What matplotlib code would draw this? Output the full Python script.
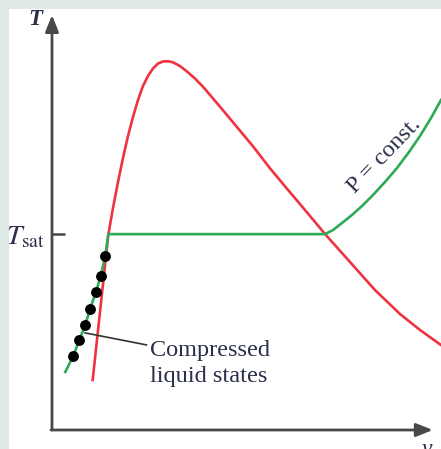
import matplotlib
matplotlib.use("Agg")
import matplotlib.pyplot as plt

# T-v diagram, arbitrary units (v: 0..100, T: 0..100)
dome_v = [10.46, 14.47, 15.68, 16.97, 18.25, 19.54, 20.82, 22.11, 23.39, 24.68, 25.96,
          27.25, 28.53, 29.82, 31.11, 32.90, 34.70, 36.76, 38.82, 43.19, 47.48, 51.75,
          56.04, 60.33, 65.04, 70.18, 76.61, 83.03, 89.46, 94.60, 100.0]
dome_T = [12.05, 46.99, 53.49, 59.76, 65.54, 70.84, 75.42, 79.52, 82.89, 85.30, 87.11,
          88.31, 88.80, 88.87, 88.60, 87.71, 86.39, 84.70, 82.72, 77.90, 73.08, 68.27,
          63.06, 58.24, 53.01, 47.23, 40.48, 33.73, 27.95, 24.10, 20.48]

T_sat = 47.2

# constant pressure line: compressed liquid -> saturated mixture -> superheated vapor
iso_v = [3.42, 5.48, 7.02, 8.56, 9.77, 11.31, 12.52, 13.70, 14.47, 70.18,
         72.24, 74.55, 77.12, 79.69, 82.52, 85.60, 88.69, 91.77, 94.60, 97.43, 100.0]
iso_T = [13.98, 17.83, 21.69, 25.30, 29.16, 33.25, 37.11, 41.93, T_sat, T_sat,
         48.19, 49.88, 51.81, 53.98, 56.63, 59.76, 63.13, 66.99, 70.84, 75.18, 79.52]

# compressed liquid states
dots_v = [5.48, 7.02, 8.56, 9.77, 11.31, 12.52, 13.70]
dots_T = [17.83, 21.69, 25.30, 29.16, 33.25, 37.11, 41.93]

red = "#ee3340"
green = "#2daa56"
txt = "#2b2f4a"
axc = "#484848"

plt.rcParams["mathtext.fontset"] = "stix"
serif = ["Liberation Serif", "DejaVu Serif"]

fig = plt.figure(figsize=(4.41, 4.49), dpi=100, facecolor="#dfe9e6")
ax = fig.add_axes([9 / 441, 0, 432 / 441, 440 / 449])
ax.set_facecolor("white")
ax.set_xlim(-11.05, 100)
ax.set_ylim(-4.58, 101.45)
ax.set_xticks([])
ax.set_yticks([])
for s in ax.spines.values():
    s.set_visible(False)

# axes with arrows
ax.annotate("", xy=(0, 100), xytext=(0, 0),
            arrowprops=dict(arrowstyle="-|>,head_length=1.0,head_width=0.4",
                            color=axc, lw=2.0, shrinkA=0, shrinkB=0))
ax.annotate("", xy=(97.9, 0), xytext=(-0.25, 0),
            arrowprops=dict(arrowstyle="-|>,head_length=1.0,head_width=0.4",
                            color=axc, lw=2.0, shrinkA=0, shrinkB=0))
ax.plot([0, 3.34], [T_sat, T_sat], color=axc, lw=1.8, solid_capstyle="butt")

ax.plot(dome_v, dome_T, color=red, lw=1.9, solid_joinstyle="round")
ax.plot(iso_v, iso_T, color=green, lw=1.9, solid_joinstyle="round")
ax.plot(dots_v, dots_T, "o", color="black", ms=6.8, zorder=5)

# leader line + label
ax.plot([8.5, 24.3], [23.4, 20.5], color="#333333", lw=1.2)
ax.text(25.2, 16.0, "Compressed\nliquid states", ha="left", va="center",
        family=serif, fontsize=17.5, color=txt, linespacing=1.3)

ax.text(85.5, 66.0, "P = const.", rotation=46, rotation_mode="anchor",
        ha="center", va="center", family=serif, fontsize=17.5, color=txt)

ax.text(-1.8, 46.7, r"$T_{\rm sat}$", ha="right", va="center", fontsize=20, color=txt)
ax.text(-4.4, 98.8, "T", ha="center", va="center", family=serif, style="italic",
        weight="bold", fontsize=16.5, color=txt)
ax.text(96.4, -2.1, "v", ha="center", va="top", family=serif, style="italic",
        fontsize=17, color=txt, clip_on=False)

fig.savefig("out.png", dpi=100, facecolor=fig.get_facecolor())
